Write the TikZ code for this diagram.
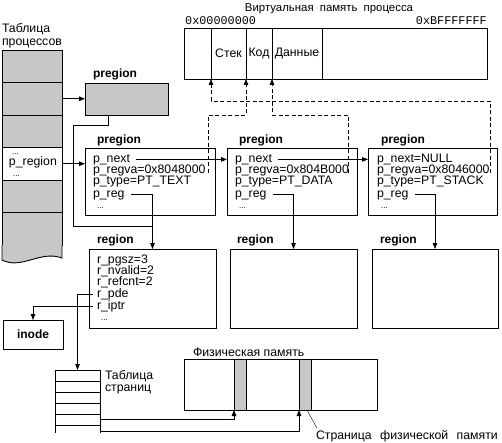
\documentclass[tikz,border=0pt]{standalone}
\usepackage{fontspec}
\setmainfont{Liberation Sans}
\setmonofont{Liberation Mono}
\usetikzlibrary{arrows.meta}
\definecolor{gfill}{gray}{0.78}
\begin{document}
\begin{tikzpicture}[x=1pt,y=-1pt,
  font=\fontsize{12.3}{13}\selectfont,
  box/.style={draw, line width=0.9pt, inner sep=0pt, outer sep=0pt, anchor=north west},
  txt/.style={inner sep=0pt, outer sep=0pt, anchor=base west, text height=8.8pt, text depth=2.6pt},
  bl/.style={txt, font=\bfseries\fontsize{12}{13}\selectfont},
  dots/.style={inner sep=0pt, anchor=base west, font=\fontsize{8}{8}\selectfont},
  ln/.style={line width=0.8pt},
  arr/.style={ln, -{Triangle[length=6pt,width=4.5pt]}},
  dsh/.style={arr, dash pattern=on 4pt off 2.5pt},
]
\useasboundingbox (0,0) rectangle (502,443);

% ---------- process table ----------
\node[txt] (ttl1) at (2,33) {Таблица};
\node[txt] (ttl2) at (2,46) {процессов};
\node[box, fill=gfill, minimum width=60pt, minimum height=32.5pt] (t1) at (2,50) {};
\node[box, fill=gfill, minimum width=60pt, minimum height=32.5pt] (t2) at (2,82.5) {};
\node[box, fill=gfill, minimum width=60pt, minimum height=32.5pt] (t3) at (2,115) {};
\node[box, minimum width=60pt, minimum height=32.5pt] (t4) at (2,147.5) {};
\node[box, fill=gfill, minimum width=60pt, minimum height=32.5pt] (t5) at (2,180) {};
\node[box, fill=gfill, minimum width=60pt, minimum height=32.5pt] (t6) at (2,212.5) {};
\fill[gfill] (2,245) -- (2,260) .. controls (22,270) and (40,250) .. (62,258) -- (62,245) -- cycle;
\draw[line width=0.9pt] (2,245) -- (2,260) .. controls (22,270) and (40,250) .. (62,258) -- (62,245);
\node[dots] (t4a) at (12,155) {...};
\node[txt] (t4b) at (9,166) {p\_region};
\node[dots] (t4c) at (13,177) {...};

% ---------- virtual memory ----------
\node[inner sep=0pt, anchor=base, font=\fontsize{11.4}{12}\selectfont] (vmt) at (329,12) {Виртуальная\hspace{3pt} память\hspace{3pt} процесса};
\node[inner sep=0pt, anchor=base west, font=\ttfamily\fontsize{11.8}{12}\selectfont] (a0) at (185,25) {0x00000000};
\node[inner sep=0pt, anchor=base east, font=\ttfamily\fontsize{11.8}{12}\selectfont] (a1) at (487,25) {0xBFFFFFFF};
\node[box, minimum width=27pt, minimum height=51pt] (v0) at (184,28) {};
\node[box, minimum width=35pt, minimum height=51pt] (vs) at (211,28) {Стек};
\node[box, minimum width=26pt, minimum height=51pt] (vk) at (246,28) {Код};
\node[box, minimum width=50pt, minimum height=51pt] (vd) at (272,28) {Данные};
\node[box, minimum width=165pt, minimum height=51pt] (vr) at (322,28) {};

% ---------- gray pregion ----------
\node[bl] (pgl) at (93,78) {pregion};
\node[box, fill=gfill, minimum width=83pt, minimum height=32pt] (pg) at (85,83) {};
\draw[arr] (t2.east) -- (t2.east -| pg.west);

% ---------- pregion boxes ----------
\node[bl] (pl1) at (97,144) {pregion};
\node[bl] (pl2) at (239,144) {pregion};
\node[bl] (pl3) at (381,144) {pregion};
\node[box, minimum width=130pt, minimum height=67pt] (pr1) at (85,148) {};
\node[box, minimum width=130pt, minimum height=67pt] (pr2) at (227,148) {};
\node[box, minimum width=129pt, minimum height=67pt] (pr3) at (368,148) {};

\node[txt] (b1n) at (93,162.5) {p\_next};
\node[txt] (b1v) at (93,173.5) {p\_regva=0x8048000};
\node[txt] (b1t) at (93,184.5) {p\_type=PT\_TEXT};
\node[txt] (b1r) at (93,198) {p\_reg};
\node[dots] (b1d) at (97,209) {...};

\node[txt] (b2n) at (235,162.5) {p\_next};
\node[txt] (b2v) at (235,173.5) {p\_regva=0x804B000};
\node[txt] (b2t) at (235,184.5) {p\_type=PT\_DATA};
\node[txt] (b2r) at (235,198) {p\_reg};
\node[dots] (b2d) at (239,209) {...};

\node[txt] (b3n) at (377,162.5) {p\_next=NULL};
\node[txt] (b3v) at (377,173.5) {p\_regva=0x8046000};
\node[txt] (b3t) at (377,184.5) {p\_type=PT\_STACK};
\node[txt] (b3r) at (377,198) {p\_reg};
\node[dots] (b3d) at (381,209) {...};

\draw[arr] (t4.east) -- (t4.east -| pr1.west);
\draw[arr] ([xshift=6pt]b1n.east) -- (b1n.east -| pr2.west);
\draw[arr] ([xshift=6pt]b2n.east) -- (b2n.east -| pr3.west);

% ---------- dashed pointers to virtual memory ----------
\coordinate (yA) at (0,115);
\coordinate (yB) at (0,101);
\coordinate (d1) at (208,173);
\coordinate (d2) at (348,173);
\coordinate (d3) at (490,173);
\draw[dsh] (d1) |- (vk.south west |- yA) -- (vk.south west);
\draw[dsh] (d2) |- (vd.south west |- yA) -- (vd.south west);
\draw[dsh] (d3) |- (vs.south west |- yB) -- (vs.south west);

% ---------- region boxes ----------
\node[bl] (rl1) at (97,243) {region};
\node[bl] (rl2) at (237,243) {region};
\node[bl] (rl3) at (380,243) {region};
\node[box, minimum width=127pt, minimum height=79pt] (rg1) at (89,249) {};
\node[box, minimum width=127pt, minimum height=79pt] (rg2) at (230,249) {};
\node[box, minimum width=126pt, minimum height=79pt] (rg3) at (372,249) {};

\node[txt] (r1) at (97,263.5) {r\_pgsz=3};
\node[txt] (r2) at (97,274.5) {r\_nvalid=2};
\node[txt] (r3) at (97,285.5) {r\_refcnt=2};
\node[txt] (r4) at (97,297.5) {r\_pde};
\node[txt] (r5) at (97,309.5) {r\_iptr};
\node[dots] (r6) at (101,320) {...};

\coordinate (j0) at (73,226);
\coordinate (j1) at (152.5,226);
\draw[ln] ([xshift=23pt]pg.south west) -- ++(0,10) -| (j0) -- (j1);
\draw[arr] ([xshift=7pt]b1r.east) -| (rg1.north);
\draw[arr] ([xshift=7pt]b2r.east) -| (rg2.north);
\draw[arr] ([xshift=7pt]b3r.east) -| (rg3.north);

% ---------- inode ----------
\node[box, minimum width=60pt, minimum height=29pt, font=\bfseries\fontsize{12}{13}\selectfont] (ino) at (3,320) {inode};
\draw[arr] ([xshift=-4pt]r5.west) -| (ino.north);

% ---------- page table ----------
\node[box, minimum width=45pt, minimum height=11pt] (pt1) at (55,370) {};
\node[box, minimum width=45pt, minimum height=11pt] (pt2) at (55,381) {};
\node[box, minimum width=45pt, minimum height=11pt] (pt3) at (55,392) {};
\node[box, minimum width=45pt, minimum height=11pt] (pt4) at (55,403) {};
\node[box, minimum width=45pt, minimum height=11pt] (pt5) at (55,414) {};
\draw[line width=0.9pt] (pt5.south west) -- ++(0,8);
\draw[line width=0.9pt] (pt5.south east) -- ++(0,8);
\node[txt] (ptl1) at (105,379) {Таблица};
\node[txt] (ptl2) at (105,391) {страниц};
\draw[arr] ([xshift=-4pt]r4.west) -| (pt1.north);

% ---------- physical memory ----------
\node[txt] (pml) at (193,356) {Физическая память};
\node[box, minimum width=193pt, minimum height=51pt] (pm) at (184,359) {};
\node[box, fill=gfill, minimum width=12pt, minimum height=51pt] (s1) at (234,359) {};
\node[box, fill=gfill, minimum width=12pt, minimum height=51pt] (s2) at (299,359) {};
\draw[arr] (pt5.east) -| (s1.south west);
\draw[arr] ([yshift=-6pt]pt5.south east) -| (s2.south west);
\node[txt] (spl) at (316,439) {Страница\hspace{5pt} физической\hspace{5pt} памяти};
\draw[line width=0.4pt] ([xshift=2pt]s2.south) -- ([xshift=1pt,yshift=2pt]spl.north west);
\end{tikzpicture}
\end{document}
